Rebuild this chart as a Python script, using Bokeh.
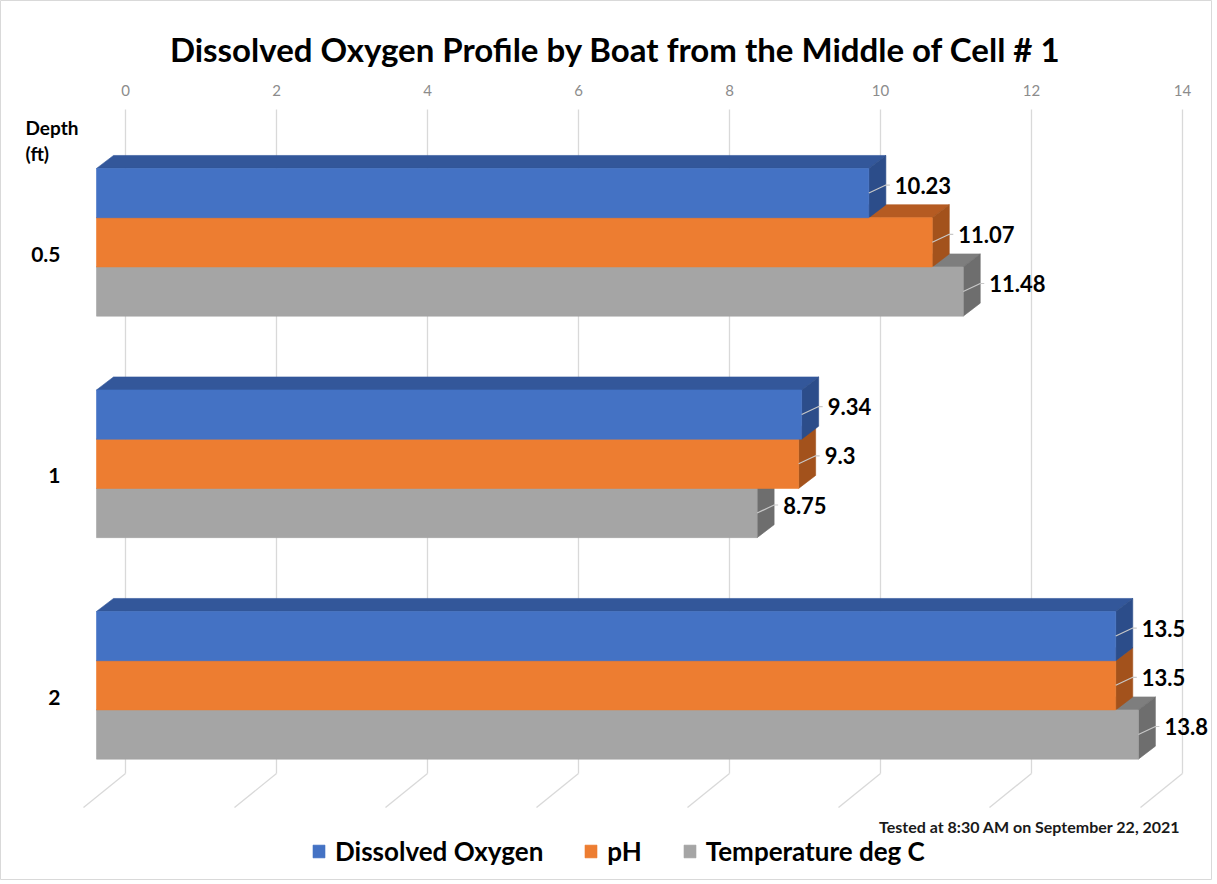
from bokeh.plotting import figure
from bokeh.models import Range1d, Label, Legend, LegendItem
from bokeh.embed import file_html
from bokeh.resources import INLINE
from bokeh.core.properties import value

# ---------------- data ----------------
depths = ["0.5", "1", "2"]
series_names = ["Dissolved Oxygen", "pH", "Temperature deg C"]
dissolved_oxygen = [10.23, 9.34, 13.5]
ph = [11.07, 9.3, 13.5]
temperature = [11.48, 8.75, 13.8]
x_ticks = [0, 2, 4, 6, 8, 10, 12, 14]
title_text = "Dissolved Oxygen Profile by Boat from the Middle of Cell # 1"
note_text = "Tested at 8:30 AM on September 22, 2021"
depth_title = ["Depth", "(ft)"]

# ---------------- layout / style ----------------
W, H = 1212, 880
ORG = 0.0         # page offset of the canvas
PXU = 75.5        # pixels per value unit
PXG = 221.5       # pixels per depth group
X0_PAGE = 96.0    # page x of value 0 on the bar front plane
Y0_PAGE = 241.8   # page y of first group centre
BAR_H = 1 / 4.5   # bar thickness in group units (gap width 150%)
DX = 17 / PXU     # 3D depth offset (x)
DY = 13 / PXG     # 3D depth offset (y, upward)
WALL_DX = 29 / PXU
GRID_TOP = (109 - Y0_PAGE) / PXG
GRID_BOT = (773 - Y0_PAGE) / PXG
FLOOR_DX = 42 / PXU
FLOOR_DY = 34 / PXG
LBL_DX = 26 / PXU
LBL_DY = 8 / PXG
FONT = "Lato"

front_cols = ["#4472C4", "#ED7D31", "#A5A5A5"]
top_cols = ["#33579A", "#B55B22", "#7E7E7E"]
side_cols = ["#2C4D8A", "#A3521C", "#6E6E6E"]

x_range = Range1d((ORG - X0_PAGE) / PXU, (ORG + W - X0_PAGE) / PXU)
y_range = Range1d((ORG + H - Y0_PAGE) / PXG, (ORG - Y0_PAGE) / PXG)

def sx(px):  # page x -> label screen x
    return px - ORG

def sy(py):  # page y -> label screen y (from bottom)
    return ORG + H - py

p = figure(width=W, height=H, x_range=x_range, y_range=y_range,
           output_backend="svg", toolbar_location=None,
           x_axis_location=None, y_axis_location=None, min_border=0)
p.grid.visible = False
p.xgrid.grid_line_color = None
p.ygrid.grid_line_color = None
p.outline_line_color = "#D9D9D9"
p.background_fill_color = "white"
p.border_fill_color = "white"

# back-wall gridlines and floor lines
gx = [t + WALL_DX for t in x_ticks]
p.segment(x0=gx, y0=[GRID_TOP] * len(gx), x1=gx, y1=[GRID_BOT] * len(gx),
          line_color="#D9D9D9", line_width=1.3)
p.segment(x0=gx, y0=[GRID_BOT] * len(gx), x1=[g - FLOOR_DX for g in gx],
          y1=[GRID_BOT + FLOOR_DY] * len(gx), line_color="#D9D9D9", line_width=1.3)

# tick labels on top
p.text(x=gx, y=[(90 - Y0_PAGE) / PXG] * len(gx), text=[str(t) for t in x_ticks],
       text_align="center", text_baseline="middle", text_font=value(FONT),
       text_font_size="15px", text_color="#8C8C8C")

all_vals = [dissolved_oxygen, ph, temperature]

def bar_geom(j, vals):
    tops_x, tops_y, sides_x, sides_y = [], [], [], []
    lefts, rights, yt_l, yb_l = [], [], [], []
    for i, v in enumerate(vals):
        yt = i - 1.5 * BAR_H + j * BAR_H
        yb = yt + BAR_H
        tops_x.append([0, DX, v + DX, v])
        tops_y.append([yt, yt - DY, yt - DY, yt])
        sides_x.append([v, v + DX, v + DX, v])
        sides_y.append([yt, yt - DY, yb - DY, yb])
        lefts.append(0); rights.append(v); yt_l.append(yt); yb_l.append(yb)
    return tops_x, tops_y, sides_x, sides_y, lefts, rights, yt_l, yb_l

geoms = [bar_geom(j, all_vals[j]) for j in range(3)]

# draw order: tops (bottom series first), sides, fronts
for j in (2, 1, 0):
    g = geoms[j]
    p.patches(xs=g[0], ys=g[1], fill_color=top_cols[j], line_color=top_cols[j], line_width=0.6)
for j in (2, 1, 0):
    g = geoms[j]
    p.patches(xs=g[2], ys=g[3], fill_color=side_cols[j], line_color=side_cols[j], line_width=0.6)
front_renderers = {}
for j in (2, 1, 0):
    g = geoms[j]
    front_renderers[j] = p.quad(left=g[4], right=g[5], top=g[6], bottom=g[7],
                                fill_color=front_cols[j], line_color=front_cols[j],
                                line_width=0.6)

# leader lines + data labels
lx, ly, ltxt, lead_xs, lead_ys = [], [], [], [], []
for j in range(3):
    for i, v in enumerate(all_vals[j]):
        cy = i - BAR_H + j * BAR_H
        ty = cy - LBL_DY
        lead_xs.append([v, v + DX, v + LBL_DX - 5 / PXU])
        lead_ys.append([cy, ty, ty])
        lx.append(v + LBL_DX)
        ly.append(ty)
        ltxt.append(f"{v:g}")
p.multi_line(xs=lead_xs, ys=lead_ys, line_color="#C8C8C8", line_width=1.2)
p.text(x=lx, y=ly, text=ltxt, text_align="left", text_baseline="middle",
       text_font=value(FONT), text_font_style="bold", text_font_size="22px",
       text_color="#000000")

# category labels
p.text(x=[(60 - X0_PAGE) / PXU] * len(depths),
       y=[i + 11.7 / PXG for i in range(len(depths))], text=depths,
       text_align="right", text_baseline="middle", text_font=value(FONT),
       text_font_style="bold", text_font_size="21px", text_color="#000000")

# screen texts
p.add_layout(Label(x=sx(615), y=sy(48.5), x_units="screen", y_units="screen",
                   text=title_text, text_align="center", text_baseline="alphabetic",
                   text_font=FONT, text_font_style="bold", text_font_size="33px",
                   text_color="#000000"))
p.add_layout(Label(x=sx(25), y=sy(138), x_units="screen", y_units="screen",
                   text=depth_title[0], text_font=FONT, text_font_style="bold",
                   text_font_size="19px", text_color="#000000"))
p.add_layout(Label(x=sx(25), y=sy(164), x_units="screen", y_units="screen",
                   text=depth_title[1], text_font=FONT, text_font_style="bold",
                   text_font_size="19px", text_color="#000000"))
p.add_layout(Label(x=sx(1180), y=sy(826), x_units="screen", y_units="screen",
                   text=note_text, text_align="right", text_baseline="alphabetic",
                   text_font=FONT, text_font_style="bold", text_font_size="16px",
                   text_color="#1A1A1A"))

legend = Legend(items=[LegendItem(label=series_names[j], renderers=[front_renderers[j]])
                       for j in range(3)],
                orientation="horizontal", location=(sx(311), sy(852) - 15),
                padding=0, margin=0, spacing=40, label_standoff=9,
                glyph_width=15, glyph_height=16,
                label_text_font=FONT, label_text_font_style="bold",
                label_text_font_size="26px", label_text_color="#000000",
                border_line_color=None, background_fill_alpha=0)
p.add_layout(legend)

open("out.html", "w").write(file_html(p, INLINE))
